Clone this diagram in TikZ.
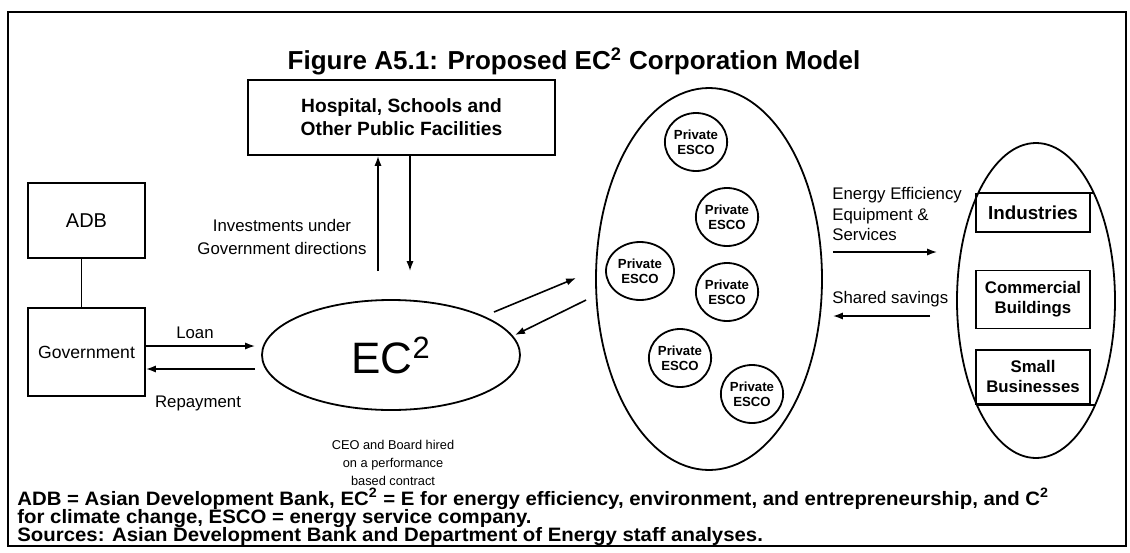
\documentclass[tikz,border=0pt]{standalone}
\usepackage{fontspec}
\setmainfont{Liberation Sans}
\newfontfamily\notefont[FakeStretch=1.05]{Liberation Sans}
\usetikzlibrary{shapes.geometric,arrows.meta,calc}
\begin{document}
\begin{tikzpicture}[x=0.5pt,y=-0.5pt,
  box/.style={draw, line width=0.9pt, inner sep=0pt, align=center},
  oval/.style={ellipse, draw, line width=0.9pt, inner sep=0pt},
  firm/.style={ellipse, draw, line width=0.9pt, inner sep=0pt,
    minimum width=29pt, minimum height=29pt, align=center,
    font=\fontsize{6.6}{7.6}\selectfont\bfseries},
  arr/.style={-{Latex[length=5pt,width=3.6pt]}, line width=0.8pt},
  lbl/.style={inner sep=0pt, align=center, font=\fontsize{8.4}{11.5}\selectfont},
  note/.style={inner sep=0pt, anchor=base west, font=\notefont\fontsize{9.7}{12}\selectfont\bfseries}]

\path[use as bounding box] (0,0) rectangle (1130,552);
\draw[line width=1pt] (8,12) rectangle (1126,546);

% title
\node[inner sep=0pt, anchor=base, font=\fontsize{13}{15}\selectfont\bfseries]
  (title) at (574,69) {Figure A5.1: Proposed EC\textsuperscript{2} Corporation Model};

% left side
\node[box, minimum width=153.5pt, minimum height=37.5pt,
  font=\fontsize{9.6}{11.5}\selectfont\bfseries] (hosp) at (401.5,117.5)
  {Hospital, Schools and\\Other Public Facilities};
\node[box, minimum width=58.5pt, minimum height=37.5pt,
  font=\fontsize{10}{12}\selectfont] (adb) at (86.5,220.5) {ADB};
\node[box, minimum width=58.5pt, minimum height=44pt,
  font=\fontsize{8.8}{10}\selectfont] (gov) at (86.5,352) {Government};
\draw[line width=0.9pt] ([xshift=-2.5pt]adb.south) -- ([xshift=-2.5pt]gov.north);

\node[oval, minimum width=129pt, minimum height=55pt,
  font=\fontsize{22}{26}\selectfont] (ec) at (391,355) {EC\textsuperscript{2}};

\draw[arr] ([yshift=3pt]gov.east) -- ([xshift=-3pt,yshift=4.5pt]ec.west);
\draw[arr] ([xshift=-3pt,yshift=-7pt]ec.west) -- ([yshift=-8.5pt]gov.east);
\node[lbl] (loan) at (195,333) {Loan};
\node[lbl] (repay) at (198,403) {Repayment};

\draw[arr] ([xshift=-6.5pt,yshift=14pt]ec.north) coordinate (up0) -- (up0 |- hosp.south);
\draw[arr] ([xshift=4.25pt]hosp.south) coordinate (dn0) -- ([yshift=14pt]dn0 |- ec.north);
\node[lbl] (inv) at (282,237) {Investments under\\Government directions};

\node[lbl, font=\fontsize{6.4}{9}\selectfont] (ceo) at (393,463)
  {CEO and Board hired\\on a performance\\based contract};

% private ESCO group
\node[oval, minimum width=113pt, minimum height=191pt] (group) at (709,279) {};
\node[firm] (e1) at (696,142) {Private\\ESCO};
\node[firm] (e2) at (727,217) {Private\\ESCO};
\node[firm, minimum width=34pt] (e3) at (640,271) {Private\\ESCO};
\node[firm] (e4) at (727,292) {Private\\ESCO};
\node[firm] (e5) at (680,358) {Private\\ESCO};
\node[firm] (e6) at (752,394) {Private\\ESCO};

\draw[arr] ([shift={(51.5pt,21.5pt)}]ec.center) -- ([shift={(-9.5pt,0.5pt)}]group.west);
\draw[arr] ([shift={(-4.5pt,-10.5pt)}]group.west) -- ([shift={(62pt,10pt)}]ec.center);

% customers
\node[oval, minimum width=79pt, minimum height=157.5pt] (cust) at (1036,300.5) {};
\node[box, minimum width=57pt, minimum height=19.25pt,
  font=\fontsize{9.4}{11}\selectfont\bfseries] (ind) at (1033,212.75) {Industries};
\node[box, minimum width=57pt, minimum height=29pt,
  font=\fontsize{8.4}{10}\selectfont\bfseries] (com) at (1033,299.5) {Commercial\\Buildings};
\node[box, minimum width=57pt, minimum height=27.2pt,
  font=\fontsize{8.4}{10}\selectfont\bfseries] (sbiz) at (1033,376.8) {Small\\Businesses};
\begin{scope}
  \clip (cust.center) ellipse [x radius=39.5pt, y radius=78.75pt];
  \draw[line width=0.9pt] ([xshift=-15pt]ind.north west) -- ([xshift=15pt]ind.north east);
  \draw[line width=0.9pt] ([xshift=-15pt]sbiz.south west) -- ([xshift=15pt]sbiz.south east);
\end{scope}

\node[lbl, align=left, anchor=north west, font=\fontsize{8.4}{10.25}\selectfont]
  (eqp) at (832,187) {Energy Efficiency\\Equipment \&\\Services};
\draw[arr] ([shift={(5pt,13.5pt)}]group.east) -- ([shift={(-9.5pt,24.25pt)}]cust.west);
\node[lbl, anchor=base west] (save) at (832,303) {Shared savings};
\draw[arr] ([shift={(-13pt,-7.75pt)}]cust.west) -- ([shift={(5pt,-18.5pt)}]group.east);

% notes
\node[note] (n1) at (17,505) {ADB = Asian Development Bank, EC\textsuperscript{2} = E for energy efficiency, environment, and entrepreneurship, and C\textsuperscript{2}};
\node[note] (n2) at (17,523) {for climate change, ESCO = energy service company.};
\node[note] (n3) at (17,541) {Sources: Asian Development Bank and Department of Energy staff analyses.};
\end{tikzpicture}
\end{document}
